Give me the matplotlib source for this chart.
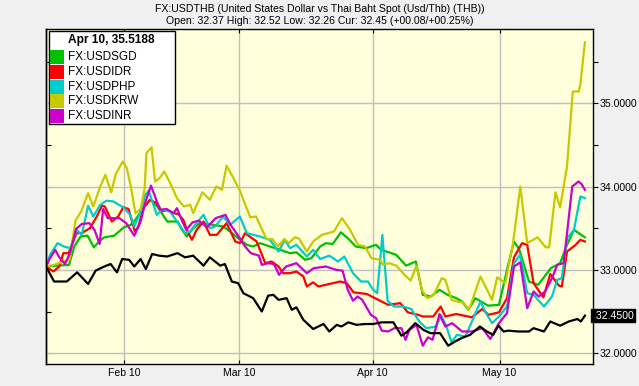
import matplotlib
matplotlib.use("Agg")
import matplotlib.pyplot as plt
from matplotlib.patches import Rectangle
from matplotlib.ticker import MultipleLocator, FuncFormatter
import matplotlib.transforms as mtransforms

plt.rcParams['font.family'] = ['Liberation Sans', 'DejaVu Sans']

# ---------------- data (x = trading-day index from start of window) -------------
title_text = "FX:USDTHB (United States Dollar vs Thai Baht Spot (Usd/Thb) (THB))"
subtitle_text = "Open: 32.37 High: 32.52 Low: 32.26 Cur: 32.45 (+00.08/+00.25%)"
legend_title = "Apr 10, 35.5188"
current_value = 32.45

tick_days = [13.6, 33.5, 56.6, 78.6]
tick_labels = ["Feb 10", "Mar 10", "Apr 10", "May 10"]

thb_days = [0.0, 1.4, 3.6, 5.4, 7.3, 8.6, 10.1, 11.2, 12.3, 13.2, 14.4, 15.3, 16.4, 17.3,
            18.4, 19.6, 21.0, 22.8, 24.1, 25.5, 27.3, 28.4, 30.2, 31.0, 32.2, 33.3, 34.2,
            35.9, 37.4, 38.5, 39.4, 40.3, 41.7, 42.6, 43.4, 44.6, 46.3, 48.1, 49.1, 50.4,
            51.2, 52.4, 53.8, 55.3, 56.7, 58.2, 60.2, 61.6, 62.5, 64.0, 65.4, 66.6, 68.3,
            69.7, 70.9, 72.0, 73.5, 75.2, 76.4, 77.5, 78.4, 79.3, 80.1, 81.9, 83.7, 84.5,
            86.3, 87.4, 89.1, 90.6, 92.1, 92.7, 93.4]
thb_vals = [33.04, 32.86, 32.86, 32.97, 32.83, 32.99, 33.04, 33.07, 32.97, 33.13, 33.12, 33.04,
            33.13, 33.01, 33.19, 33.17, 33.16, 33.20, 33.15, 33.17, 33.05, 33.15, 33.05, 33.07,
            32.86, 32.84, 32.72, 32.66, 32.50, 32.69, 32.70, 32.64, 32.66, 32.52, 32.55, 32.40,
            32.29, 32.35, 32.26, 32.34, 32.32, 32.37, 32.34, 32.35, 32.35, 32.37, 32.37, 32.21,
            32.25, 32.36, 32.28, 32.24, 32.24, 32.09, 32.14, 32.18, 32.22, 32.32, 32.26, 32.22,
            32.33, 32.26, 32.27, 32.26, 32.26, 32.30, 32.26, 32.38, 32.33, 32.38, 32.41, 32.38,
            32.45]

sgd_days = [0.0, 4.0, 4.9, 6.0, 7.2, 8.3, 9.2, 10.1, 11.8, 13.5, 14.7, 15.5, 17.0, 18.1, 19.3,
            21.0, 22.8, 23.4, 24.4, 25.5, 26.7, 29.0, 30.7, 31.9, 33.3, 34.8, 35.9, 37.1, 38.8,
            40.6, 42.3, 43.4, 44.9, 46.0, 47.5, 48.5, 49.7, 51.1, 52.3, 53.7, 55.5, 57.2, 58.1,
            60.7, 62.4, 64.1, 65.3, 66.7, 68.2, 69.6, 71.1, 72.1, 73.2, 74.4, 76.6, 78.5, 79.9,
            81.1, 82.0, 83.7, 85.3, 87.5, 89.1, 90.3, 91.5, 93.4]
sgd_vals = [33.04, 33.06, 33.28, 33.40, 33.41, 33.27, 33.34, 33.39, 33.41, 33.51, 33.54, 33.60,
            33.76, 33.84, 33.76, 33.58, 33.58, 33.50, 33.40, 33.50, 33.56, 33.54, 33.52, 33.46,
            33.38, 33.30, 33.28, 33.32, 33.28, 33.24, 33.20, 33.21, 33.12, 33.14, 33.28, 33.32,
            33.31, 33.45, 33.38, 33.28, 33.26, 33.30, 33.24, 33.18, 33.05, 33.10, 32.70, 32.68,
            32.76, 32.70, 32.66, 32.62, 32.52, 32.66, 32.57, 32.58, 33.00, 33.34, 33.25, 32.86,
            32.82, 33.02, 33.08, 33.30, 33.48, 33.39]

idr_days = [0.0, 1.3, 2.3, 3.0, 3.9, 5.3, 6.2, 7.6, 8.8, 9.7, 10.2, 11.4, 12.5, 13.4, 14.3,
            15.4, 16.0, 16.9, 18.0, 19.2, 20.1, 20.9, 22.1, 22.9, 23.8, 24.4, 25.3, 26.1, 27.3,
            28.4, 29.6, 31.3, 32.8, 33.6, 34.5, 36.5, 38.0, 39.1, 40.3, 41.1, 42.3, 43.4, 44.6,
            45.2, 46.3, 47.2, 49.1, 51.0, 52.1, 53.3, 55.6, 57.3, 59.3, 61.4, 62.7, 64.5, 65.3,
            67.1, 68.4, 69.2, 71.1, 73.8, 75.6, 76.7, 78.5, 79.9, 81.1, 82.5, 83.4, 84.5, 86.2,
            87.4, 88.9, 89.4, 90.3, 91.8, 92.6, 93.4]
idr_vals = [33.04, 32.98, 33.04, 33.20, 33.20, 33.44, 33.44, 33.50, 33.64, 33.77, 33.76, 33.58,
            33.64, 33.75, 33.73, 33.46, 33.52, 33.74, 33.84, 33.80, 33.70, 33.72, 33.68, 33.67,
            33.60, 33.48, 33.36, 33.48, 33.58, 33.42, 33.42, 33.56, 33.34, 33.32, 33.44, 33.34,
            33.08, 33.10, 33.04, 32.96, 32.96, 32.98, 32.92, 32.80, 32.85, 32.80, 32.83, 32.86,
            32.84, 32.73, 32.71, 32.65, 32.58, 32.60, 32.49, 32.46, 32.44, 32.44, 32.56, 32.44,
            32.47, 32.43, 32.53, 32.46, 32.49, 32.66, 33.15, 33.32, 33.30, 32.84, 32.67, 32.95,
            32.81, 32.80, 33.22, 33.30, 33.36, 33.34]

php_days = [0.0, 0.7, 2.0, 3.1, 4.2, 5.3, 6.2, 7.3, 8.2, 9.4, 10.5, 11.7, 13.4, 14.6, 15.3,
            16.3, 17.2, 17.8, 19.2, 20.1, 21.5, 22.9, 24.1, 25.0, 26.1, 27.3, 28.4, 29.3, 30.7,
            31.9, 33.6, 34.8, 37.1, 38.8, 40.3, 41.4, 42.3, 43.4, 45.2, 46.3, 47.5, 49.1, 50.6,
            51.7, 53.2, 54.6, 55.8, 56.6, 57.4, 58.3, 59.2, 60.3, 61.9, 63.3, 64.7, 65.9, 67.6,
            68.5, 69.3, 70.3, 71.2, 72.7, 75.3, 76.1, 77.3, 78.5, 79.9, 81.1, 82.2, 83.4, 84.5,
            86.3, 87.7, 88.6, 89.4, 90.3, 91.5, 92.6, 93.4]
php_vals = [33.04, 33.18, 33.32, 33.28, 33.26, 33.48, 33.42, 33.77, 33.64, 33.78, 33.83, 33.82,
            33.75, 33.66, 33.52, 33.68, 33.90, 33.95, 33.66, 33.72, 33.70, 33.56, 33.44, 33.46,
            33.56, 33.66, 33.50, 33.52, 33.64, 33.54, 33.64, 33.44, 33.40, 33.36, 33.22, 33.36,
            33.26, 33.30, 33.16, 33.24, 33.13, 33.17, 33.10, 33.16, 32.96, 32.86, 32.86, 32.77,
            32.72, 33.42, 32.63, 32.56, 32.56, 32.53, 32.38, 32.30, 32.32, 32.45, 32.34, 32.13,
            32.22, 32.20, 32.62, 32.50, 32.36, 32.44, 32.56, 33.08, 33.18, 32.72, 32.70, 32.56,
            32.68, 32.88, 32.90, 33.38, 33.48, 33.88, 33.86]

krw_days = [0.0, 1.4, 3.1, 4.1, 5.1, 6.1, 7.3, 8.2, 9.4, 10.3, 11.3, 12.1, 13.3, 14.0, 14.7,
            15.5, 16.4, 17.1, 17.4, 18.3, 18.9, 19.7, 20.5, 21.6, 22.7, 23.9, 25.0, 25.5, 27.1,
            28.4, 29.5, 30.5, 31.3, 32.5, 33.6, 35.4, 36.4, 38.2, 39.2, 40.2, 41.3, 42.1, 43.1,
            43.8, 45.2, 46.3, 47.8, 49.9, 51.3, 52.6, 54.1, 55.3, 56.4, 57.9, 58.4, 59.5, 60.7,
            62.0, 63.2, 64.2, 65.2, 66.1, 67.2, 68.6, 69.2, 70.3, 71.2, 72.3, 73.3, 75.3, 77.3,
            78.2, 79.6, 80.9, 82.2, 83.4, 85.2, 86.6, 87.2, 88.3, 89.1, 90.3, 91.3, 92.3, 92.6,
            93.4]
krw_vals = [33.04, 33.06, 33.10, 33.12, 33.59, 33.70, 33.92, 33.76, 34.00, 34.14, 33.93, 34.15,
            34.30, 34.22, 34.00, 33.68, 33.73, 33.98, 34.40, 34.47, 34.06, 34.10, 34.18, 34.03,
            33.86, 33.76, 33.78, 33.68, 33.93, 33.84, 34.00, 33.96, 34.25, 34.10, 33.95, 33.63,
            33.64, 33.37, 33.37, 33.28, 33.37, 33.32, 33.39, 33.38, 33.22, 33.34, 33.42, 33.46,
            33.62, 33.49, 33.30, 33.28, 33.14, 33.12, 33.06, 33.08, 33.05, 32.95, 32.87, 33.05,
            32.75, 32.66, 32.70, 32.90, 32.88, 32.64, 32.62, 32.61, 32.52, 32.92, 32.64, 32.91,
            32.84, 33.30, 34.00, 33.32, 33.39, 33.27, 33.27, 33.93, 33.75, 34.24, 35.14, 35.14,
            35.22, 35.73]

inr_days = [0.0, 0.7, 1.6, 2.3, 3.3, 4.2, 5.2, 6.2, 7.5, 8.4, 9.3, 9.9, 10.7, 11.8, 12.7,
            13.9, 15.3, 16.4, 17.2, 18.2, 19.1, 19.8, 20.9, 22.1, 22.7, 23.5, 24.3, 25.4, 26.5,
            27.9, 29.4, 31.1, 31.9, 33.2, 34.5, 35.5, 36.9, 37.4, 38.5, 39.5, 40.4, 41.6, 43.4,
            45.2, 46.4, 48.5, 50.3, 51.4, 52.3, 53.2, 54.0, 54.8, 56.3, 57.2, 58.2, 59.3, 60.4,
            61.6, 62.3, 63.0, 64.2, 65.3, 66.2, 67.0, 68.2, 69.2, 70.4, 72.1, 73.8, 75.6, 77.0,
            78.5, 79.9, 81.1, 82.2, 83.4, 84.5, 85.4, 86.5, 87.7, 88.6, 89.7, 90.3, 91.2, 92.3,
            92.8, 93.4]
inr_vals = [33.04, 33.14, 33.24, 33.15, 33.07, 33.21, 33.49, 33.55, 33.56, 33.48, 33.31, 33.73,
            33.62, 33.62, 33.62, 33.56, 33.41, 33.58, 33.81, 34.01, 33.84, 33.72, 33.73, 33.68,
            33.74, 33.60, 33.48, 33.57, 33.59, 33.51, 33.62, 33.66, 33.55, 33.42, 33.28, 33.20,
            33.17, 33.06, 33.08, 33.07, 32.94, 33.04, 33.08, 32.96, 33.02, 33.04, 33.00, 32.99,
            32.76, 32.63, 32.68, 32.64, 32.46, 32.42, 32.27, 32.26, 32.30, 32.30, 32.16, 32.28,
            32.34, 32.09, 32.19, 32.16, 32.47, 32.32, 32.36, 32.26, 32.26, 32.30, 32.17, 32.36,
            32.48, 33.04, 33.09, 32.54, 32.74, 32.68, 32.74, 32.90, 33.06, 33.08, 33.44, 34.00,
            34.06, 34.03, 33.96]

series = [
    ("FX:USDSGD", sgd_days, sgd_vals, "#00c000"),
    ("FX:USDIDR", idr_days, idr_vals, "#ff0000"),
    ("FX:USDPHP", php_days, php_vals, "#00cccc"),
    ("FX:USDKRW", krw_days, krw_vals, "#c8c800"),
    ("FX:USDINR", inr_days, inr_vals, "#cc00cc"),
]

# ---------------- figure ----------------
W, H = 639, 386
fig = plt.figure(figsize=(W / 100, H / 100), dpi=100, facecolor="#f0f0f0")
L, R, T, B = 46, 593, 29, 364
ax = fig.add_axes([L / W, 1 - B / H, (R - L) / W, (B - T) / H])
ax.set_facecolor("#ffffdc")

for name, d, v, c in series:
    ax.plot(d, v, color=c, lw=1.6, solid_joinstyle="round")
ax.plot(thb_days, thb_vals, color="black", lw=1.6, zorder=5)

ax.set_xlim(0, 94.8)
ax.set_ylim(31.87, 35.89)

ax.set_xticks(tick_days)
ax.set_xticklabels(tick_labels, fontsize=7.5)
ax.yaxis.set_major_locator(MultipleLocator(1.0))
ax.yaxis.set_minor_locator(MultipleLocator(0.5))
ax.yaxis.set_major_formatter(FuncFormatter(lambda v, p: f"{v:.4f}"))
ax.yaxis.tick_right()
ax.tick_params(axis="y", which="both", direction="out", right=True, left=False,
               labelright=True, labelleft=False, labelsize=7.6, length=3.5, width=0.8, pad=1.5)
ax.tick_params(axis="x", which="both", direction="in", top=True, bottom=True,
               length=3, width=0.8, pad=3)

sec = ax.secondary_yaxis("left")
sec.yaxis.set_major_locator(MultipleLocator(0.5))
sec.tick_params(axis="y", direction="in", length=3.5, width=0.8, labelleft=False)
sec.spines["left"].set_linewidth(1.0)

ax.grid(True, which="major", color="#c0c0c0", lw=1.0)
ax.set_axisbelow(True)
for s in ax.spines.values():
    s.set_linewidth(1.0)
    s.set_color("black")

# current value marker on the right axis
trans = mtransforms.blended_transform_factory(ax.transAxes, ax.transData)
ax.text(1.0, current_value, f" {current_value:.4f}", transform=trans, ha="left", va="center",
        fontsize=7.6, color="white", zorder=10, clip_on=False,
        bbox=dict(boxstyle="square,pad=0.15", facecolor="black", edgecolor="black"))

# titles
fig.text(0.5, 1 - 9 / H, title_text, ha="center", va="center", fontsize=7.6)
fig.text(0.5, 1 - 21.5 / H, subtitle_text, ha="center", va="center", fontsize=7.6)

# legend box (drawn manually to match the original layout)
def fx(x):
    return x / W

def fy(y):
    return 1 - y / H

fig.patches.append(Rectangle((fx(48.5), fy(124)), (174.5 - 48.5) / W, (124 - 31) / H,
                             transform=fig.transFigure, facecolor="white",
                             edgecolor="black", lw=1.0, zorder=20))
fig.text(fx(111.5), fy(40), legend_title, ha="center", va="center", fontsize=8.6,
         fontweight="bold", zorder=21)
row_top = 50.0
pitch = 14.75
for i, (name, d, v, c) in enumerate(series):
    y0 = row_top + i * pitch
    fig.patches.append(Rectangle((fx(50), fy(y0 + 14)), 14 / W, 14 / H,
                                 transform=fig.transFigure, facecolor=c,
                                 edgecolor="none", zorder=21))
    fig.text(fx(68), fy(y0 + 7.2), name, ha="left", va="center", fontsize=8.5, zorder=22)

fig.savefig("out.png", dpi=100, facecolor=fig.get_facecolor())
